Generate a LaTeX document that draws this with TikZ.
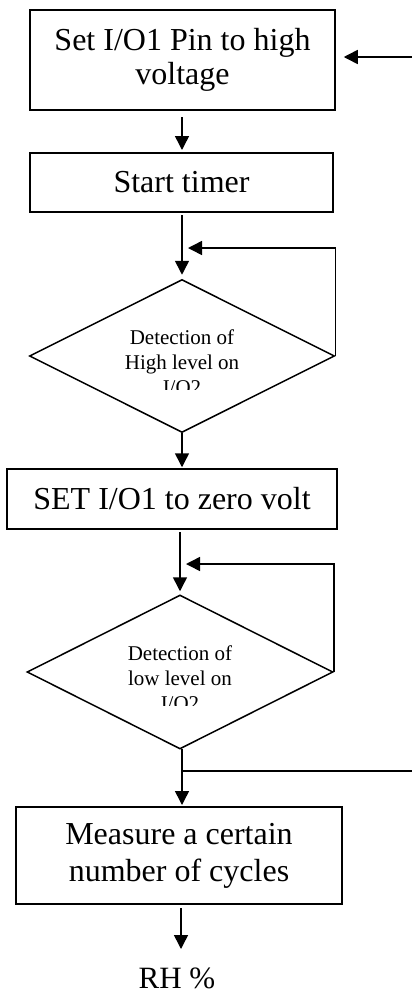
\documentclass[tikz,border=0pt]{standalone}
\usepackage{fontspec}
\setmainfont{Liberation Serif}
\usetikzlibrary{shapes.geometric,arrows.meta}
\begin{document}
\begin{tikzpicture}[x=1pt,y=-1pt,
  line width=1.5pt,
  box/.style={draw,rectangle,inner sep=0pt,align=center,font=\fontsize{32}{34}\selectfont},
  dia/.style={draw,diamond,inner sep=0pt},
  dtext/.style={align=center,inner sep=0pt,font=\fontsize{21}{25}\selectfont},
  arr/.style={-{Triangle[length=14pt,width=14pt]}}
]
\useasboundingbox (0,0) rectangle (412,994);
\node[box,minimum width=305pt,minimum height=100pt,font=\fontsize{32}{34}\selectfont] (b1) at (182.5,60) {Set I/O1 Pin to high\\voltage};
\node[box,minimum width=303pt,minimum height=59pt] (b2) at (181.5,182.5) {Start timer};
\node[dia,minimum width=305pt,minimum height=153pt] (d1) at (182,356) {};
\node[box,minimum width=330pt,minimum height=60pt] (b3) at (172,499) {SET I/O1 to zero volt};
\node[dia,minimum width=306pt,minimum height=154pt] (d2) at (180,672) {};
\node[box,minimum width=326pt,minimum height=97pt,font=\fontsize{32}{37}\selectfont] (b4) at (179,855.5) {Measure a certain\\number of cycles};
\node[inner sep=0pt,anchor=base,font=\fontsize{31}{34}\selectfont] (rh) at (177,988) {RH \%};
% diamond texts (bottom line clipped as in the original)
\begin{scope}
\clip (0,0) rectangle (412,389);
\node[dtext] (t1) at (182,362) {Detection of\\High level on\\I/O2};
\end{scope}
\begin{scope}
\clip (0,560) rectangle (412,705);
\node[dtext] (t2) at (180,678) {Detection of\\low level on\\I/O2};
\end{scope}
% connectors
\coordinate (in1) at (412,57);
\draw[arr,shorten >=8pt] (in1) -- (in1 -| b1.east);
\draw[arr,shorten <=7pt,shorten >=3pt] (182,110) -- (182,153);
\draw[arr,shorten <=3pt,shorten >=4pt] (182,212) -- (d1.north);
\coordinate (l1) at (d1.east |- 0,248);
\draw[arr] (d1.east) -- (l1) -- (188,248);
\draw[arr,shorten >=1pt] (d1.south) -- (d1.south |- b3.north);
\draw[arr,shorten <=3pt,shorten >=3pt] (180,529) -- (d2.north);
\coordinate (l2) at (d2.east |- 0,564);
\draw[arr] (d2.east) -- (l2) -- (186,564);
\draw[arr,shorten >=2pt] (182,749) -- (182,807);
\coordinate (out2) at (412,771);
\draw (182,771) -- (out2);
\draw[arr,shorten <=4pt] (181,904) -- (181,949);
\end{tikzpicture}
\end{document}
